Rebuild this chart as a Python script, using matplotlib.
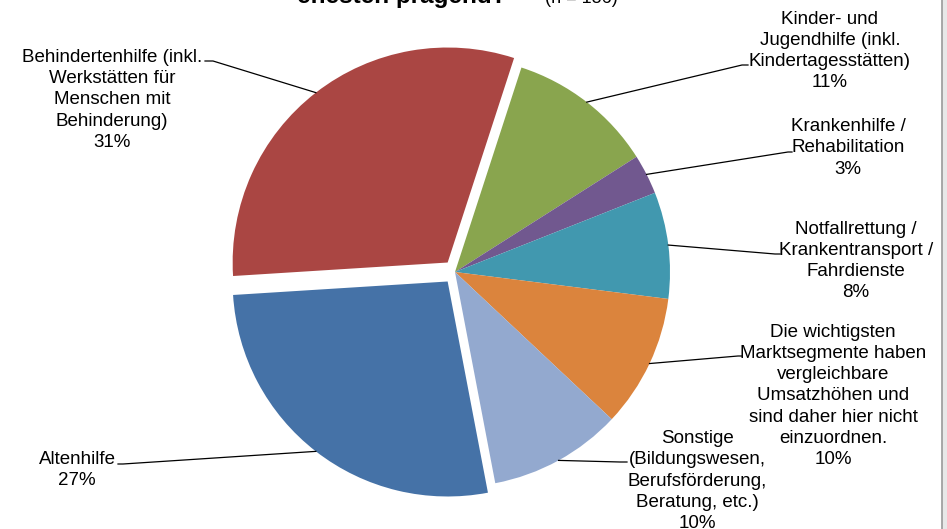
import matplotlib
matplotlib.use('Agg')
from matplotlib import pyplot as plt
import numpy as np

# Marktsegmente, im Uhrzeigersinn ab dem grünen Segment
segments = ['Kinder- und\nJugendhilfe (inkl.\nKindertagesstätten)',
            'Krankenhilfe /\nRehabilitation',
            'Notfallrettung /\nKrankentransport /\nFahrdienste',
            'Die wichtigsten\nMarktsegmente haben\nvergleichbare\nUmsatzhöhen und\nsind daher hier nicht\neinzuordnen.',
            'Sonstige\n(Bildungswesen,\nBerufsförderung,\nBeratung, etc.)',
            'Altenhilfe',
            'Behindertenhilfe (inkl.\nWerkstätten für\nMenschen mit\nBehinderung)']
shares = [11, 3, 8, 10, 10, 27, 31]
colors = ['#89A54E', '#71588F', '#4198AF', '#DB843D', '#93A9CF', '#4572A7', '#AA4643']
explode = [0, 0, 0, 0, 0, 12, 12]   # pie() takes this in data units (px here)

# label layout in pixels: block centre, elbow of leader, end of leader at text
label_pos = [(830, 51), (848, 148), (856, 261), (833, 396), (697, 481), (77, 470), (112, 100)]
elbow = [(742, 65), (788, 152), (775, 254), (738, 356), (620, 462), (123, 464), (213, 61)]
text_end = [(748, 65), (792, 152), (780, 254), (742, 356), (627, 462), (118, 464), (205, 61)]

W, H = 947, 529
plt.rcParams['font.family'] = ['Liberation Sans', 'DejaVu Sans']

fig = plt.figure(figsize=(W / 100, H / 100), dpi=100)
ax = fig.add_axes([0, 0, 1, 1])

wedges, _ = ax.pie(shares, colors=colors, explode=explode, startangle=-72,
                   counterclock=True, center=(455, 272), radius=215,
                   wedgeprops=dict(linewidth=0))
ax.set_xlim(0, W)
ax.set_ylim(H, 0)
ax.set_aspect('equal')
ax.axis('off')

for w, lab, share, pos, el, te in zip(wedges, segments, shares, label_pos, elbow, text_end):
    mid = np.deg2rad((w.theta1 + w.theta2) / 2)
    cx, cy = w.center
    x0 = cx + w.r * np.cos(mid)
    y0 = cy + w.r * np.sin(mid)
    ax.plot([x0, el[0], te[0]], [y0, el[1], te[1]], color='black', lw=0.9)
    ax.text(pos[0], pos[1], '{}\n{}%'.format(lab, share), ha='center', va='center',
            multialignment='center', fontsize=13.5, color='black', linespacing=1.31)

# title, cut at the top edge
ax.text(297, 3, 'ehesten prägend?', fontsize=17.5, fontweight='bold', ha='left', va='baseline')
ax.text(545, 3, '(n = 186)', fontsize=13, ha='left', va='baseline')

# chart frame on the right
ax.axvspan(942.5, W, color='#E8E8E8', lw=0)
ax.axvline(942, color='#9A9A9A', lw=1.2)

plt.savefig('out.png', dpi=100)
